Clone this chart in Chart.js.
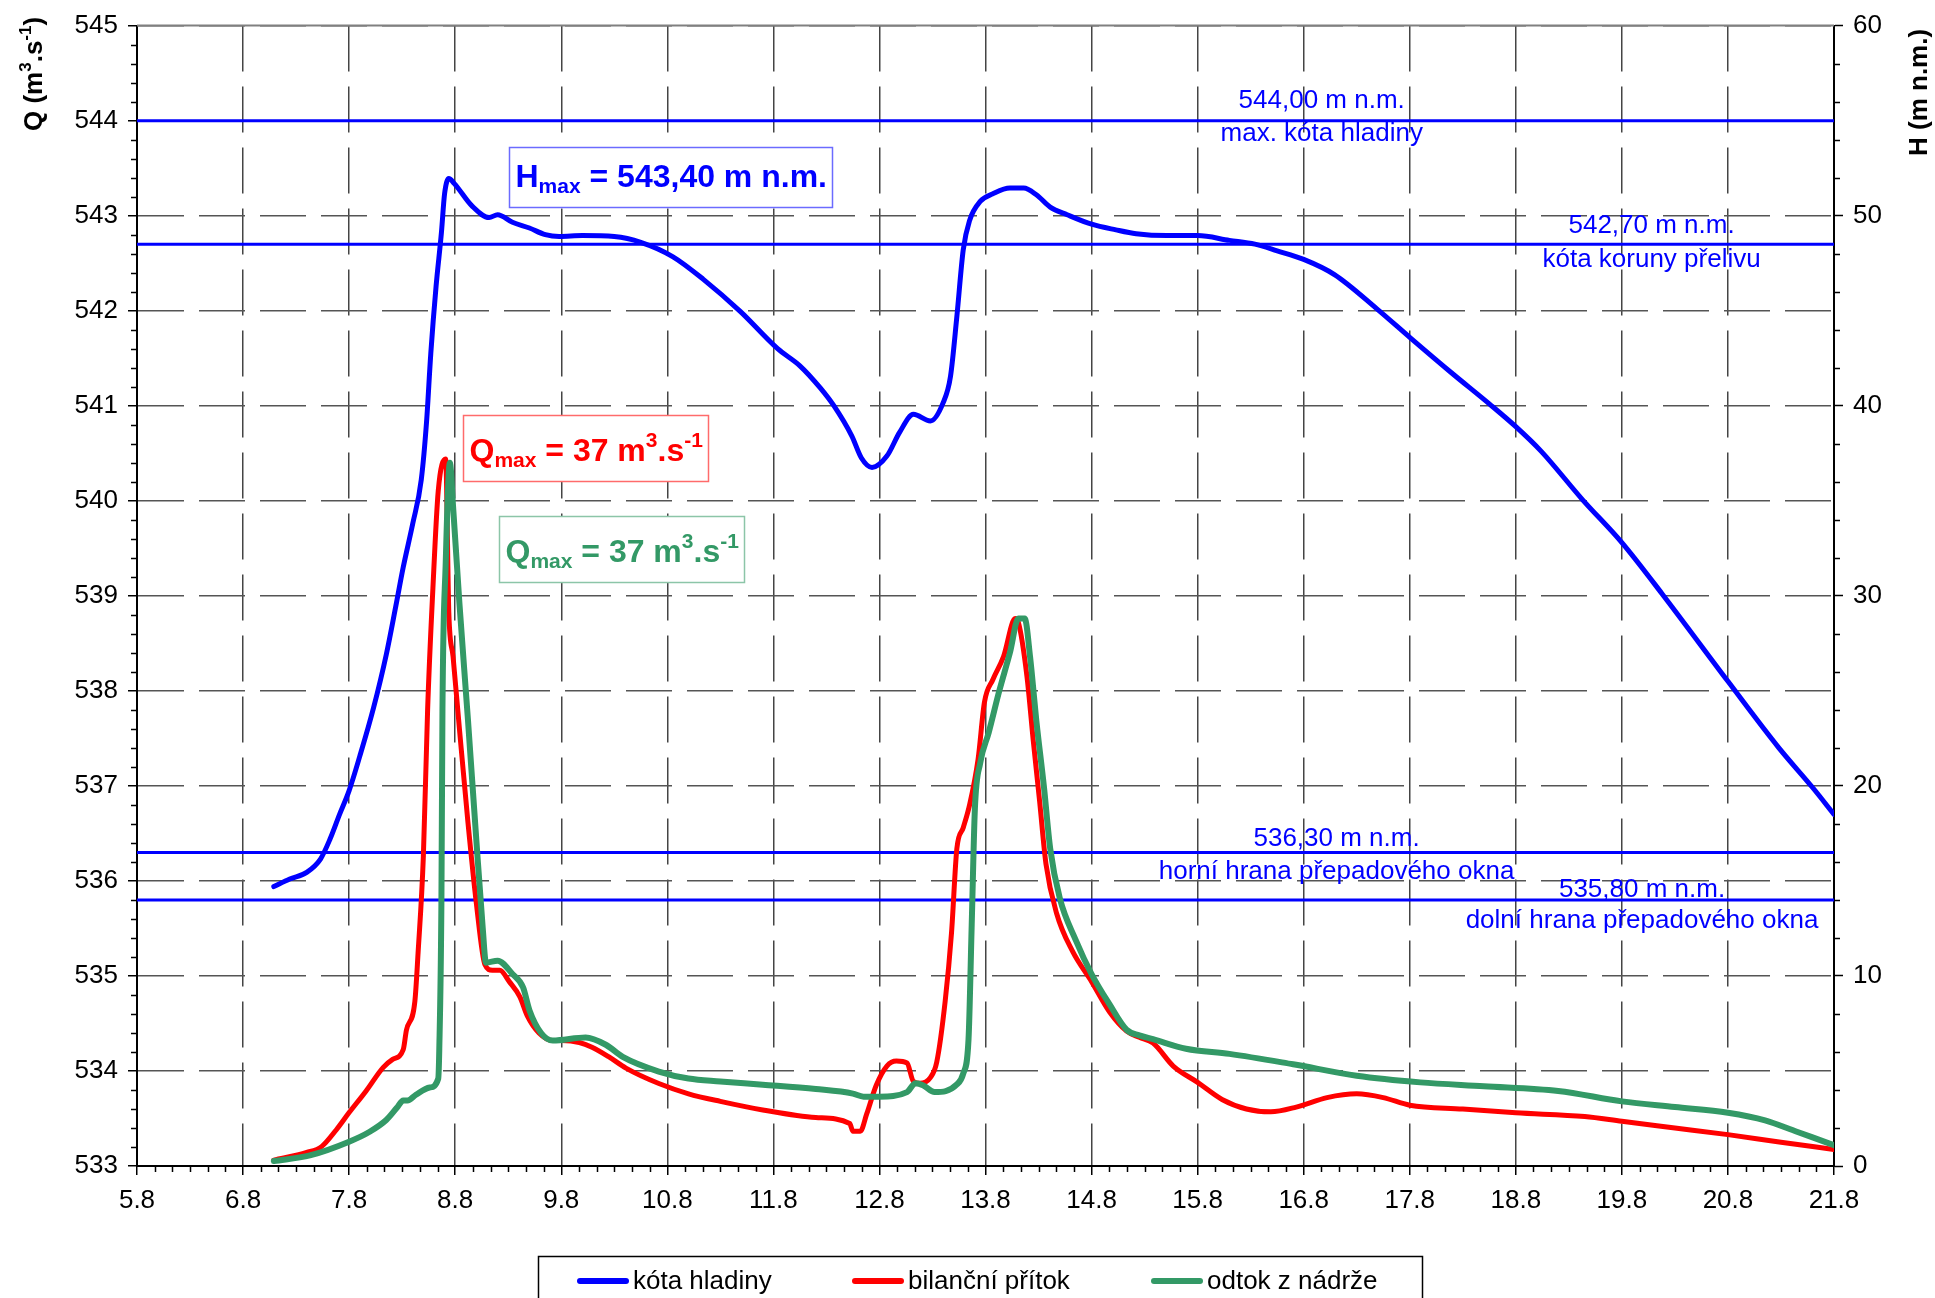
<!DOCTYPE html>
<html>
<head>
<meta charset="utf-8">
<script src="https://cdn.jsdelivr.net/npm/chart.js@4.4.0/dist/chart.umd.min.js"></script>
<style>
  html, body { margin: 0; padding: 0; background: #fff; }
  canvas { display: block; }
</style>
</head>
<body>
<canvas id="chart" width="1935" height="1298"></canvas>
<script>
// water level (m n.m.), left axis
const levelDays = [6.29, 6.44, 6.60, 6.73, 6.82, 6.91, 7.00, 7.10, 7.23, 7.35, 7.44, 7.51, 7.60, 7.68, 7.73, 7.77, 7.82, 7.87, 7.90, 7.94, 7.99,
  8.16, 8.32, 8.40, 8.54, 8.70, 8.85, 8.98, 9.20, 9.50, 9.75, 10.05, 10.34, 10.69, 11.04, 11.25, 11.44, 11.57, 11.74, 11.83, 11.93,
  12.07, 12.19, 12.32, 12.48, 12.60, 12.67, 12.73, 12.79, 12.85, 12.95, 13.07, 13.23, 13.36, 13.48, 13.61, 13.77, 14.00, 14.23, 14.42,
  14.71, 15.00, 15.30, 15.54, 15.75, 16.00, 16.29, 16.69, 17.00, 17.39, 17.75, 18.00, 18.24, 18.63, 19.00, 19.38, 20.00, 20.48, 20.80, 21.00];
const levelValues = [535.94, 536.02, 536.09, 536.23, 536.44, 536.70, 536.95, 537.31, 537.82, 538.38, 538.89, 539.30, 539.76, 540.22, 540.83, 541.55, 542.26, 542.82, 543.23, 543.39, 543.34,
  543.10, 542.98, 543.01, 542.93, 542.87, 542.80, 542.78, 542.79, 542.78, 542.72, 542.57, 542.33, 541.99, 541.60, 541.42, 541.19, 541.00, 540.68, 540.45, 540.35,
  540.47, 540.72, 540.91, 540.84, 541.03, 541.31, 541.94, 542.64, 542.95, 543.15, 543.23, 543.29, 543.29, 543.22, 543.09, 543.01, 542.91, 542.85, 542.81,
  542.79, 542.79, 542.74, 542.70, 542.63, 542.54, 542.38, 542.02, 541.72, 541.35, 541.02, 540.78, 540.52, 540.01, 539.56, 539.02, 538.10, 537.40, 536.98, 536.70];

// balance inflow (m3/s), right axis
const inflowDays = [6.29, 6.60, 6.74, 6.88, 7.00, 7.16, 7.32, 7.41, 7.51, 7.54, 7.62, 7.65, 7.70, 7.74, 7.79, 7.84, 7.91, 7.94, 7.98,
  8.04, 8.12, 8.20, 8.28, 8.35, 8.42, 8.51, 8.61, 8.68, 8.79, 8.92, 9.00, 9.17, 9.29, 9.45, 9.61, 9.92, 10.20, 10.50, 10.90, 11.40,
  11.72, 11.75, 11.82, 11.88, 11.97, 12.07, 12.16, 12.26, 12.32, 12.38, 12.48, 12.54, 12.62, 12.68, 12.73, 12.79, 12.85, 12.93, 12.99,
  13.07, 13.17, 13.28, 13.31, 13.39, 13.45, 13.51, 13.57, 13.67, 13.82, 14.00, 14.17, 14.33, 14.45, 14.58, 14.77, 15.00, 15.23, 15.46,
  15.69, 15.93, 16.22, 16.50, 16.75, 17.00, 17.50, 18.00, 18.65, 19.00, 19.50, 20.00, 20.50, 21.00];
const inflowValues = [0.31, 0.71, 1.02, 1.91, 2.81, 3.95, 5.18, 5.61, 6.12, 7.14, 8.67, 11.2, 16.3, 24.0, 30.4, 35.5, 37.2, 29.1, 26.8,
  23.0, 18.1, 13.8, 10.6, 10.3, 10.3, 9.7, 8.9, 7.9, 7.0, 6.6, 6.6, 6.5, 6.25, 5.74, 5.15, 4.34, 3.8, 3.4, 2.95, 2.55,
  2.24, 1.83, 1.83, 2.74, 4.25, 5.26, 5.52, 5.42, 4.45, 4.35, 4.65, 5.46, 8.68, 12.3, 16.7, 17.8, 19.0, 21.4, 24.4,
  25.6, 26.8, 28.8, 28.6, 25.8, 22.4, 19.2, 15.9, 13.3, 11.3, 9.7, 8.1, 7.1, 6.77, 6.47, 5.26, 4.4, 3.5, 3.0,
  2.85, 3.1, 3.6, 3.8, 3.6, 3.2, 3.0, 2.8, 2.6, 2.35, 2.0, 1.65, 1.25, 0.87];

// outflow from reservoir (m3/s), right axis
const outflowDays = [6.29, 6.63, 7.00, 7.19, 7.35, 7.45, 7.51, 7.55, 7.63, 7.76, 7.84, 7.85, 7.87, 7.88, 7.91, 7.95, 7.98,
  8.04, 8.12, 8.20, 8.26, 8.29, 8.40, 8.54, 8.64, 8.70, 8.81, 8.92, 9.23, 9.42, 9.58, 9.92, 10.20, 10.50, 10.90, 11.40,
  11.75, 11.85, 12.00, 12.26, 12.34, 12.41, 12.52, 12.73, 12.79, 12.84, 12.87, 12.90, 12.95, 13.03, 13.13, 13.23, 13.31, 13.37,
  13.42, 13.48, 13.55, 13.61, 13.70, 13.85, 14.00, 14.17, 14.33, 14.45, 14.58, 14.89, 15.30, 15.90, 16.50, 17.10, 17.70, 18.40,
  19.00, 19.50, 20.00, 20.35, 20.65, 21.00];
const outflowValues = [0.26, 0.56, 1.28, 1.79, 2.42, 3.06, 3.44, 3.44, 3.75, 4.13, 4.59, 6.12, 13.8, 24.0, 31.6, 37.0, 34.7,
  29.6, 23.5, 17.1, 12.5, 10.7, 10.8, 10.1, 9.4, 8.2, 7.0, 6.6, 6.76, 6.38, 5.74, 4.97, 4.6, 4.45, 4.28, 4.05,
  3.81, 3.65, 3.65, 3.89, 4.35, 4.25, 3.89, 4.29, 4.86, 6.67, 12.7, 18.8, 21.2, 22.8, 25.0, 27.0, 28.8, 28.8,
  26.8, 23.4, 20.0, 16.7, 14.1, 11.9, 10.1, 8.5, 7.17, 6.87, 6.67, 6.17, 5.9, 5.35, 4.75, 4.4, 4.2, 3.95,
  3.4, 3.1, 2.8, 2.4, 1.8, 1.1];

const seriesLabels = ['kóta hladiny', 'bilanční přítok', 'odtok z nádrže'];

// reference levels (m n.m.)
const refLevels = [544.0, 542.7, 536.3, 535.8];
const refValueLabels = ['544,00 m n.m.', '542,70 m n.m.', '536,30 m n.m.', '535,80 m n.m.'];
const refDescLabels = ['max. kóta hladiny', 'kóta koruny přelivu', 'horní hrana přepadového okna', 'dolní hrana přepadového okna'];

const dayMin = 5, dayMax = 21;
const levelMin = 533, levelMax = 545;
const flowMin = 0, flowMax = 60;

const BLUE = '#0000ff', RED = '#ff0000', GREEN = '#339966';
const FONT = '"Liberation Sans", Arial, sans-serif';

function toPoints(xs, ys) {
  return xs.map((x, i) => ({ x: x, y: ys[i] }));
}

// where the two text rows of each reference line sit (day, level)
const refLabelPos = [
  [[16.17, 544.21], [16.17, 543.86]],
  [[19.28, 542.89], [19.28, 542.54]],
  [[16.31, 536.44], [16.31, 536.10]],
  [[19.19, 535.91], [19.19, 535.58]]
];

// peak boxes: anchored at top-left corner in data units
const peakBoxes = [
  { axis: 'y', x: 8.507, y: 543.727, w: 323, h: 60, color: BLUE, border: '#6b6bff',
    parts: [['H', 32, 0], ['max', 21, 6], [' = 543,40 m n.m.', 32, 0]] },
  { axis: 'y1', x: 8.074, y: 39.49, w: 245, h: 66, color: RED, border: '#ff6b6b',
    parts: [['Q', 32, 0], ['max', 21, 6], [' = 37 m', 32, 0], ['3', 21, -14], ['.s', 32, 0], ['-1', 21, -14]] },
  { axis: 'y1', x: 8.413, y: 34.18, w: 245, h: 66, color: GREEN, border: '#8cc5a8',
    parts: [['Q', 32, 0], ['max', 21, 6], [' = 37 m', 32, 0], ['3', 21, -14], ['.s', 32, 0], ['-1', 21, -14]] }
];

function drawRich(ctx, parts, x, y, weight) {
  parts.forEach(p => {
    ctx.font = weight + ' ' + p[1] + 'px ' + FONT;
    ctx.fillText(p[0], x, y + p[2]);
    x += ctx.measureText(p[0]).width;
  });
}

const decorPlugin = {
  id: 'decor',
  beforeDraw(chart) {
    const ctx = chart.ctx;
    ctx.save();
    ctx.fillStyle = '#fff';
    ctx.fillRect(0, 0, chart.width, chart.height);
    ctx.restore();
  },
  afterDraw(chart) {
    const { ctx, chartArea: a, scales } = chart;
    const xs = scales.x, yl = scales.y, yr = scales.y1;
    ctx.save();

    // top frame line
    ctx.strokeStyle = '#808080';
    ctx.lineWidth = 2;
    ctx.beginPath();
    ctx.moveTo(a.left, a.top);
    ctx.lineTo(a.right, a.top);
    ctx.stroke();

    // minor ticks
    ctx.strokeStyle = '#000';
    ctx.lineWidth = 1.5;
    ctx.beginPath();
    for (let i = 0; i <= (dayMax - dayMin) * 6; i++) {
      if (i % 6 === 0) continue;
      const px = Math.round(xs.getPixelForValue(dayMin + i / 6)) + 0.5;
      ctx.moveTo(px, a.bottom);
      ctx.lineTo(px, a.bottom + 6);
    }
    for (let i = 0; i <= (levelMax - levelMin) * 5; i++) {
      if (i % 5 === 0) continue;
      const py = Math.round(yl.getPixelForValue(levelMin + i / 5)) + 0.5;
      ctx.moveTo(a.left - 6, py);
      ctx.lineTo(a.left, py);
    }
    for (let v = flowMin; v <= flowMax; v += 2) {
      if (v % 10 === 0) continue;
      const py = Math.round(yr.getPixelForValue(v)) + 0.5;
      ctx.moveTo(a.right, py);
      ctx.lineTo(a.right + 6, py);
    }
    ctx.stroke();

    // reference line captions
    ctx.fillStyle = BLUE;
    ctx.font = '26px ' + FONT;
    ctx.textAlign = 'center';
    ctx.textBaseline = 'middle';
    refLabelPos.forEach((pos, i) => {
      ctx.fillText(refValueLabels[i], xs.getPixelForValue(pos[0][0]), yl.getPixelForValue(pos[0][1]));
      ctx.fillText(refDescLabels[i], xs.getPixelForValue(pos[1][0]), yl.getPixelForValue(pos[1][1]));
    });

    // peak boxes
    ctx.textAlign = 'left';
    ctx.textBaseline = 'alphabetic';
    peakBoxes.forEach(b => {
      const bx = Math.round(xs.getPixelForValue(b.x)) + 0.5;
      const by = Math.round(scales[b.axis].getPixelForValue(b.y)) + 0.5;
      ctx.fillStyle = '#fff';
      ctx.fillRect(bx, by, b.w, b.h);
      ctx.strokeStyle = b.border;
      ctx.lineWidth = 1.5;
      ctx.strokeRect(bx, by, b.w, b.h);
      ctx.fillStyle = b.color;
      drawRich(ctx, b.parts, bx + 6, by + b.h - 21, 'bold');
    });

    // axis titles, rotated
    ctx.fillStyle = '#000';
    ctx.save();
    ctx.translate(42, 131);
    ctx.rotate(-Math.PI / 2);
    drawRich(ctx, [['Q (m', 26, 0], ['3', 17, -11], ['.s', 26, 0], ['-1', 17, -11], [')', 26, 0]], 0, 0, 'bold');
    ctx.restore();
    ctx.save();
    ctx.translate(1927, 156);
    ctx.rotate(-Math.PI / 2);
    drawRich(ctx, [['H (m n.m.)', 26, 0]], 0, 0, 'bold');
    ctx.restore();

    // legend
    ctx.strokeStyle = '#000';
    ctx.lineWidth = 1.5;
    ctx.strokeRect(538.5, 1256.5, 884, 60);
    const legendX = [580, 855, 1154];
    ctx.font = '26px ' + FONT;
    ctx.textBaseline = 'middle';
    ctx.lineCap = 'round';
    chart.data.datasets.slice(0, 3).forEach((ds, i) => {
      ctx.strokeStyle = ds.borderColor;
      ctx.lineWidth = 6;
      ctx.beginPath();
      ctx.moveTo(legendX[i], 1281);
      ctx.lineTo(legendX[i] + 46, 1281);
      ctx.stroke();
      ctx.fillStyle = '#000';
      ctx.fillText(ds.label, legendX[i] + 53, 1282);
    });

    ctx.restore();
  }
};

const lineStyle = {
  pointRadius: 0,
  cubicInterpolationMode: 'monotone',
  borderCapStyle: 'round',
  borderJoinStyle: 'round',
  fill: false
};

const datasets = [
  Object.assign({ label: seriesLabels[0], data: toPoints(levelDays, levelValues), yAxisID: 'y',
    borderColor: BLUE, borderWidth: 5, order: 1 }, lineStyle),
  Object.assign({ label: seriesLabels[1], data: toPoints(inflowDays, inflowValues), yAxisID: 'y1',
    borderColor: RED, borderWidth: 5, order: 3 }, lineStyle),
  Object.assign({ label: seriesLabels[2], data: toPoints(outflowDays, outflowValues), yAxisID: 'y1',
    borderColor: GREEN, borderWidth: 6, order: 2 }, lineStyle)
].concat(refLevels.map((v, i) => ({
  label: refValueLabels[i],
  data: [{ x: dayMin, y: v }, { x: dayMax, y: v }],
  yAxisID: 'y',
  borderColor: BLUE,
  borderWidth: 3,
  pointRadius: 0,
  order: 10
})));

const tickFont = { family: FONT, size: 26 };

new Chart(document.getElementById('chart'), {
  type: 'line',
  data: { datasets: datasets },
  options: {
    responsive: false,
    animation: false,
    devicePixelRatio: 1,
    layout: { padding: { top: 25, left: 0, right: 0, bottom: 0 } },
    plugins: { legend: { display: false }, tooltip: { enabled: false } },
    scales: {
      x: {
        type: 'linear',
        min: dayMin,
        max: dayMax,
        afterFit: s => { s.height = 132; },
        ticks: { stepSize: 1, autoSkip: false, maxRotation: 0, padding: 10, color: '#000', font: tickFont,
          callback: v => v + '.8' },
        grid: { color: '#444', lineWidth: 1.5, tickLength: 9, tickColor: '#000', tickWidth: 1.5 },
        border: { color: '#000', width: 2, dash: [46, 15] }
      },
      y: {
        position: 'left',
        min: levelMin,
        max: levelMax,
        afterFit: s => { s.width = 137; },
        ticks: { stepSize: 1, padding: 10, color: '#000', font: tickFont, callback: v => String(v) },
        grid: { color: '#555', lineWidth: 1.5, tickLength: 9, tickColor: '#000', tickWidth: 1.5 },
        border: { color: '#000', width: 2, dash: [46, 15] }
      },
      y1: {
        position: 'right',
        min: flowMin,
        max: flowMax,
        afterFit: s => { s.width = 101; },
        ticks: { stepSize: 10, padding: 10, color: '#000', font: tickFont },
        grid: { drawOnChartArea: false, tickLength: 9, tickColor: '#000', tickWidth: 1.5 },
        border: { color: '#000', width: 2 }
      }
    }
  },
  plugins: [decorPlugin]
});
</script>
</body>
</html>
